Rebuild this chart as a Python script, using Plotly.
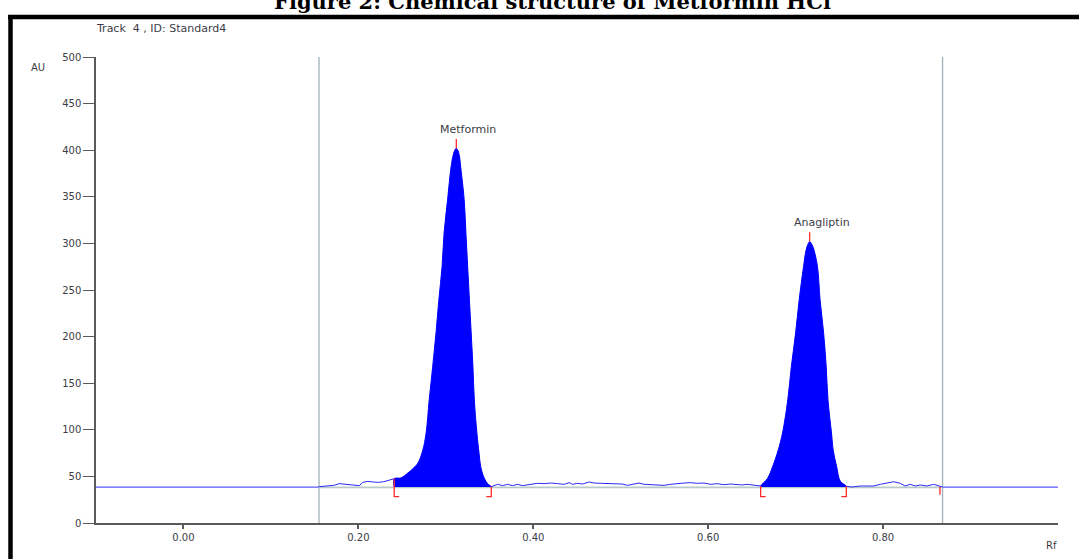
import plotly.graph_objects as go

# ---------------- data ----------------
title_text = "Figure 2: Chemical structure of Metformin HCl"
track_text = "Track  4 , ID: Standard4"
y_label = "AU"
x_label = "Rf"

y_ticks = [0, 50, 100, 150, 200, 250, 300, 350, 400, 450, 500]
x_ticks = [0.0, 0.2, 0.4, 0.6, 0.8]
x_tick_labels = ["0.00", "0.20", "0.40", "0.60", "0.80"]

rf_range = [-0.1, 1.0]
au_range = [0, 500]

baseline_au = 38.5
track_start_rf = 0.155
track_end_rf = 0.868
track_end_mark_rf = 0.865

# baseline noise before first peak
noise1_rf = [0.155, 0.169, 0.172, 0.178, 0.184, 0.192, 0.201, 0.205, 0.211,
             0.217, 0.223, 0.229, 0.235, 0.241]
noise1_au = [39.0, 39.7, 40.4, 42.2, 41.5, 40.4, 40.1, 43.6, 44.7,
             44.0, 43.6, 44.3, 45.8, 47.5]

# Metformin peak
metformin_rf = [0.241, 0.249, 0.2565, 0.262, 0.268, 0.2736, 0.2774, 0.281,
                0.285, 0.2888, 0.292, 0.2957, 0.298, 0.302, 0.306, 0.3085,
                0.3105, 0.312, 0.3135, 0.3155, 0.317, 0.321, 0.323, 0.325,
                0.327, 0.329, 0.331, 0.3326, 0.3356, 0.338, 0.340, 0.344,
                0.348, 0.352]
metformin_au = [47.5, 48.5, 53.6, 58.0, 64.0, 78.0, 96.0, 132.0,
                168.0, 204.0, 239.0, 275.0, 311.0, 347.0, 382.0, 395.0,
                400.5, 402.0, 400.5, 394.0, 382.0, 347.0, 311.0, 275.0,
                239.0, 204.0, 168.0, 132.0, 96.0, 75.0, 60.0, 48.0,
                42.0, 39.0]

# baseline noise between the peaks
noise2_rf = [0.352, 0.3592, 0.3649, 0.3706, 0.3763, 0.3820, 0.3878, 0.3954,
             0.4049, 0.4125, 0.4201, 0.4277, 0.4353, 0.4410, 0.4448, 0.4505,
             0.4563, 0.4639, 0.4696, 0.4772, 0.4848, 0.4924, 0.5019, 0.5076,
             0.5133, 0.5209, 0.5266, 0.5342, 0.5419, 0.5495, 0.5571, 0.5628,
             0.5723, 0.5799, 0.5875, 0.5951, 0.6027, 0.6104, 0.6180, 0.6256,
             0.6332, 0.6389, 0.6446, 0.6522, 0.6579, 0.660]
noise2_au = [39.0, 41.5, 40.1, 41.5, 40.1, 41.5, 40.1, 41.5,
             42.6, 42.2, 42.9, 42.2, 41.5, 43.3, 41.5, 42.6,
             41.8, 44.0, 42.9, 42.6, 42.2, 42.2, 41.8, 40.4,
             41.5, 42.9, 41.5, 41.1, 41.5, 40.4, 41.5, 42.2,
             42.9, 43.3, 42.6, 42.9, 41.5, 42.2, 41.1, 41.8,
             41.5, 40.8, 41.5, 40.8, 40.1, 39.7]

# Anagliptin peak
anagliptin_rf = [0.660, 0.668, 0.6735, 0.680, 0.685, 0.691, 0.695, 0.700,
                 0.704, 0.709, 0.712, 0.7145, 0.716, 0.7175, 0.7195, 0.721,
                 0.725, 0.728, 0.732, 0.735, 0.737, 0.741, 0.743, 0.747,
                 0.751, 0.758]
anagliptin_au = [39.7, 48.0, 60.0, 78.0, 96.6, 132.0, 167.0, 204.0,
                 239.0, 275.0, 293.0, 300.0, 302.0, 300.5, 297.0, 293.0,
                 275.0, 239.0, 204.0, 167.0, 132.0, 96.6, 78.0, 60.0,
                 45.0, 39.5]

# baseline noise after second peak
noise3_rf = [0.758, 0.764, 0.774, 0.7816, 0.7892, 0.7968, 0.8044, 0.812,
             0.8196, 0.8253, 0.8311, 0.8368, 0.8425, 0.850, 0.8577, 0.8634,
             0.868]
noise3_au = [39.5, 38.6, 39.7, 40.1, 39.7, 41.5, 43.3, 44.3,
             42.6, 39.7, 41.5, 39.7, 40.8, 39.7, 41.5, 39.7,
             38.6]

peak_names = ["Metformin", "Anagliptin"]
peak_rf = [metformin_rf, anagliptin_rf]
peak_au = [metformin_au, anagliptin_au]
peak_apex_rf = [0.312, 0.716]
peak_apex_au = [402.0, 302.0]

# ---------------- styling ----------------
W, H = 1079, 559
ML, MR, MT, MB = 96, 21, 57, 36
PW, PH = W - ML - MR, H - MT - MB

BLUE = "#0000ff"
LINE_BLUE = "#2a2aff"
RED = "#ff2a2a"
AXIS = "#5a5a5a"
TXT = "#3c3c46"
TRACK_GRAY = "#9fb3b8"
BASE_GRAY = "#b9c9c9"

bracket_bottom = 28.2
foot = 0.0057
apex_tick = 10.0


def px(xp):
    return (xp - ML) / PW


def py(yp):
    return (H - MB - yp) / PH


fig = go.Figure()

# track limits (vertical gray lines)
for r in [track_start_rf, track_end_rf]:
    fig.add_trace(go.Scatter(x=[r, r], y=au_range, mode="lines",
                             line=dict(color=TRACK_GRAY, width=1.3),
                             hoverinfo="skip", showlegend=False))

# integration baseline
fig.add_trace(go.Scatter(x=[track_start_rf, track_end_rf],
                         y=[baseline_au - 0.3, baseline_au - 0.3], mode="lines",
                         line=dict(color=BASE_GRAY, width=1.6),
                         hoverinfo="skip", showlegend=False))

# flat parts outside the track
for xs in [[rf_range[0], track_start_rf], [track_end_rf, rf_range[1]]]:
    fig.add_trace(go.Scatter(x=xs, y=[baseline_au, baseline_au], mode="lines",
                             line=dict(color="#5a5aff", width=1.3),
                             hoverinfo="skip", showlegend=False))

# baseline noise
for xs, ys in [(noise1_rf, noise1_au), (noise2_rf, noise2_au), (noise3_rf, noise3_au)]:
    fig.add_trace(go.Scatter(x=xs, y=ys, mode="lines",
                             line=dict(color=LINE_BLUE, width=1),
                             hoverinfo="skip", showlegend=False))

# filled peaks
for xs, ys in zip(peak_rf, peak_au):
    fx = [xs[0]] + xs + [xs[-1]]
    fy = [baseline_au] + ys + [baseline_au]
    fig.add_trace(go.Scatter(x=fx, y=fy, mode="lines", fill="toself",
                             fillcolor=BLUE, line=dict(color=BLUE, width=1),
                             line_shape="spline",
                             hoverinfo="skip", showlegend=False))

# red integration brackets and apex ticks
rx, ry = [], []
for xs, ys, ax_, ay_ in zip(peak_rf, peak_au, peak_apex_rf, peak_apex_au):
    rx += [xs[0], xs[0], xs[0] + foot, None]
    ry += [ys[0], bracket_bottom, bracket_bottom, None]
    rx += [xs[-1], xs[-1], xs[-1] - foot, None]
    ry += [ys[-1], bracket_bottom, bracket_bottom, None]
    rx += [ax_, ax_, None]
    ry += [ay_, ay_ + apex_tick, None]
rx += [track_end_mark_rf, track_end_mark_rf]
ry += [baseline_au, bracket_bottom + 2]
fig.add_trace(go.Scatter(x=rx, y=ry, mode="lines",
                         line=dict(color=RED, width=1.3),
                         hoverinfo="skip", showlegend=False))

# peak labels
for name, ax_, ay_ in zip(peak_names, peak_apex_rf, peak_apex_au):
    fig.add_annotation(x=ax_, y=ay_, text=name, showarrow=False,
                       xshift=12, yshift=19, xanchor="center", yanchor="middle",
                       font=dict(family="DejaVu Sans", size=11, color=TXT))

# texts
fig.add_annotation(xref="paper", yref="paper", x=px(94), y=py(29), text=track_text,
                   showarrow=False, xanchor="left", yanchor="middle",
                   font=dict(family="DejaVu Sans", size=11, color=TXT))
fig.add_annotation(xref="paper", yref="paper", x=px(38), y=py(67), text=y_label,
                   showarrow=False, xanchor="center", yanchor="middle",
                   font=dict(family="DejaVu Sans", size=10, color=TXT))
fig.add_annotation(xref="paper", yref="paper", x=px(1051), y=py(545), text=x_label,
                   showarrow=False, xanchor="center", yanchor="middle",
                   font=dict(family="DejaVu Sans", size=10, color=TXT))
fig.add_annotation(xref="paper", yref="paper", x=px(552), y=py(2),
                   text="<b>" + title_text + "</b>",
                   showarrow=False, xanchor="center", yanchor="middle",
                   font=dict(family="DejaVu Serif", size=21, color="#000000"))

# black frame (top and left)
fig.add_shape(type="line", xref="paper", yref="paper",
              x0=px(8), x1=px(1085), y0=py(17), y1=py(17),
              line=dict(color="black", width=4.5))
fig.add_shape(type="line", xref="paper", yref="paper",
              x0=px(10.5), x1=px(10.5), y0=py(15), y1=py(565),
              line=dict(color="black", width=4.5))

fig.update_layout(
    width=W, height=H,
    margin=dict(l=ML, r=MR, t=MT, b=MB),
    paper_bgcolor="white", plot_bgcolor="white",
    showlegend=False,
    xaxis=dict(range=rf_range, showgrid=False, zeroline=False,
               showline=True, linecolor=AXIS, linewidth=1.5,
               tickvals=x_ticks, ticktext=x_tick_labels,
               ticks="outside", ticklen=4, tickwidth=1.5, tickcolor=AXIS,
               tickfont=dict(family="DejaVu Sans", size=10, color=TXT)),
    yaxis=dict(range=au_range, showgrid=False, zeroline=False,
               showline=True, linecolor=AXIS, linewidth=1.5,
               tickvals=y_ticks, ticks="outside", ticklen=11, tickwidth=1.3,
               tickcolor=AXIS,
               tickfont=dict(family="DejaVu Sans", size=10, color=TXT)),
)

fig.write_html("out.html")
